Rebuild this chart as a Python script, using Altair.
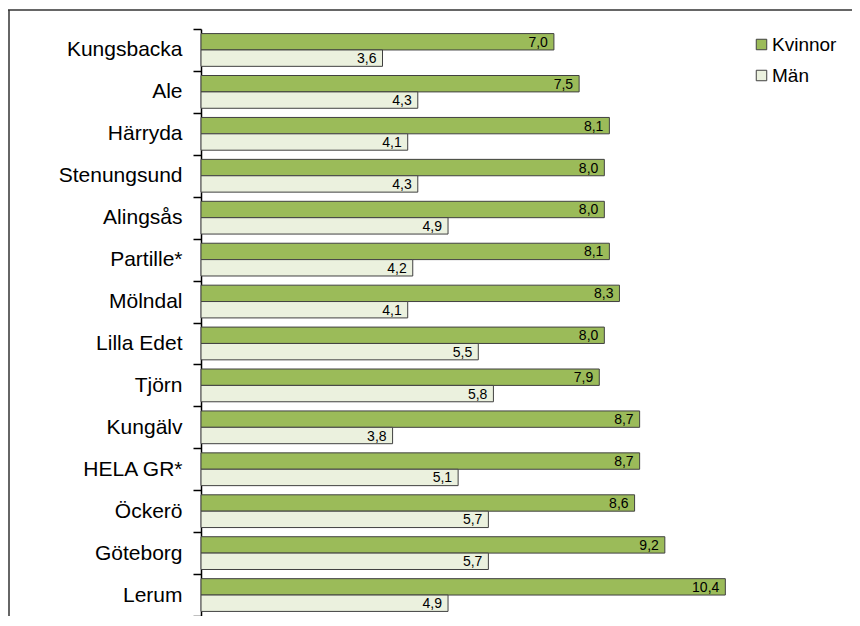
import altair as alt
import pandas as pd

kommuner = ["Kungsbacka", "Ale", "Härryda", "Stenungsund", "Alingsås", "Partille*",
            "Mölndal", "Lilla Edet", "Tjörn", "Kungälv", "HELA GR*", "Öckerö",
            "Göteborg", "Lerum"]
kvinnor = [7.0, 7.5, 8.1, 8.0, 8.0, 8.1, 8.3, 8.0, 7.9, 8.7, 8.7, 8.6, 9.2, 10.4]
man = [3.6, 4.3, 4.1, 4.3, 4.9, 4.2, 4.1, 5.5, 5.8, 3.8, 5.1, 5.7, 5.7, 4.9]
serier = ["Kvinnor", "Män"]
farger = ["#9BBB59", "#EBF1DE"]

rows = []
for k, v1, v2 in zip(kommuner, kvinnor, man):
    rows.append({"Kommun": k, "Kön": serier[0], "Värde": v1})
    rows.append({"Kommun": k, "Kön": serier[1], "Värde": v2})
df = pd.DataFrame(rows)

W = 605
H = 587
PL = 193
PT = 21
PR = 46
PB = 0

y_enc = alt.Y("Kommun:N", sort=kommuner,
              scale=alt.Scale(paddingInner=0, paddingOuter=0),
              axis=alt.Axis(title=None, tickBand="extent", tickSize=8, tickColor="#000000",
                            tickWidth=1.5, domainColor="#000000", domainWidth=1.5,
                            labelFontSize=21, labelColor="#000000", labelFont="Liberation Sans",
                            labelPadding=11, grid=False))
yoff = alt.YOffset("Kön:N", sort=serier, scale=alt.Scale(paddingInner=0, paddingOuter=0.28))
x_enc = alt.X("Värde:Q", scale=alt.Scale(domain=[0, 12], nice=False), axis=None)

base = alt.Chart(df)

bars = base.mark_bar(stroke="#404040", strokeWidth=1).encode(
    x=x_enc,
    y=y_enc,
    yOffset=yoff,
    color=alt.Color("Kön:N", sort=serier,
                    scale=alt.Scale(domain=serier, range=farger),
                    legend=alt.Legend(title=None, orient="none", legendX=551, legendY=6,
                                      symbolType="square", symbolSize=110,
                                      symbolStrokeColor="#404040", symbolStrokeWidth=1,
                                      labelFontSize=19, labelFont="Liberation Sans",
                                      labelColor="#000000", rowPadding=11, labelOffset=1)),
)

labels = base.mark_text(align="right", baseline="middle", dx=-6, dy=1, fontSize=14,
                        font="Liberation Sans", color="#000000").transform_calculate(
    etikett="replace(format(datum['Värde'], '.1f'), '.', ',')"
).encode(
    x=x_enc,
    y=alt.Y("Kommun:N", sort=kommuner),
    yOffset=alt.YOffset("Kön:N", sort=serier),
    text="etikett:N",
)

frame_data = alt.Data(values=[{"a": 1}])
top_border = alt.Chart(frame_data).mark_rule(color="#333333", strokeWidth=1.5).encode(
    x=alt.value(-PL), x2=alt.value(W + PR), y=alt.value(-19))
left_border = alt.Chart(frame_data).mark_rule(color="#333333", strokeWidth=1.5).encode(
    x=alt.value(-PL + 1), y=alt.value(-19), y2=alt.value(H + 10))

chart = alt.layer(bars, labels, top_border, left_border).properties(
    width=W, height=H,
    background="#ffffff",
    autosize=alt.AutoSizeParams(type="none"),
    padding={"left": PL, "top": PT, "right": PR, "bottom": PB},
).configure_view(stroke=None, strokeWidth=0)

chart.save("out.html", embed_options={"renderer": "svg", "actions": False})
